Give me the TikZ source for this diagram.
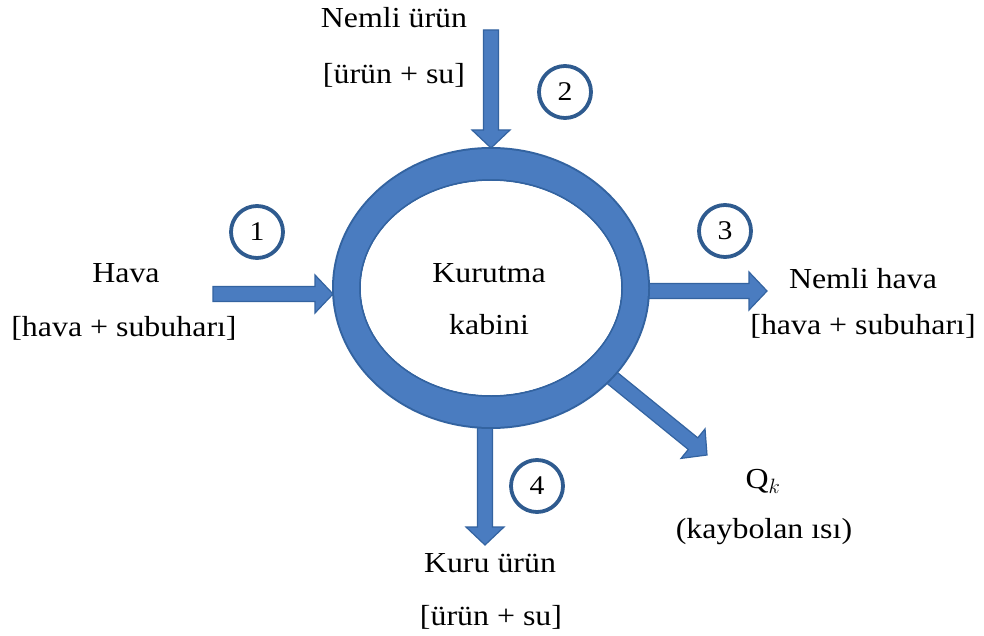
\documentclass[tikz,border=0pt]{standalone}
\usepackage{fontspec}
\setmainfont[FakeStretch=1.1]{Liberation Serif}
\usetikzlibrary{calc}
\definecolor{ringfill}{HTML}{4A7CC0}
\definecolor{ringedge}{HTML}{3363A0}
\definecolor{circedge}{HTML}{2F5B8F}
\tikzset{
 lbl/.style={anchor=base, inner sep=0pt, font=\fontsize{29}{34}\selectfont},
 num/.style={circle, draw=circedge, line width=3.8pt, fill=white, minimum size=52pt, inner sep=0pt, font=\fontsize{27}{30}\selectfont},
 blk/.style={fill=ringfill, draw=ringedge, line width=1.2pt, line join=miter},
}
\newcommand\blockarrow[2]{%
 \coordinate (h) at ($(#2)!18pt!(#1)$);
 \path[blk] ($(#1)!7.5pt!90:(#2)$) -- ($(h)!7.5pt!90:(#2)$) -- ($(h)!19pt!90:(#2)$) -- (#2)
   -- ($(h)!19pt!-90:(#2)$) -- ($(h)!7.5pt!-90:(#2)$) -- ($(#1)!7.5pt!-90:(#2)$) -- cycle;}
\begin{document}
\begin{tikzpicture}[x=1pt,y=-1pt]
\useasboundingbox (0,0) rectangle (984,636);
\fill[white] (0,0) rectangle (984,636);
% ring centre and arrow end points
\coordinate (cab) at (491,288);
\coordinate (a1s) at (213,294); \coordinate (a1e) at (333,294);
\coordinate (a2s) at (491,30);  \coordinate (a2e) at (491,148);
\coordinate (a3s) at (645,291); \coordinate (a3e) at (767,291);
\coordinate (a4s) at (485,425); \coordinate (a4e) at (485,545);
\coordinate (aqs) at (600,368); \coordinate (aqe) at (707,455);
% arrows
\blockarrow{a1s}{a1e}
\blockarrow{a2s}{a2e}
\blockarrow{a3s}{a3e}
\blockarrow{a4s}{a4e}
\blockarrow{aqs}{aqe}
% ring
\fill[ringedge, even odd rule] (cab) ellipse [x radius=159pt, y radius=141pt]
   (cab) ellipse [x radius=130pt, y radius=107pt];
\fill[ringfill, even odd rule] (cab) ellipse [x radius=157pt, y radius=139pt]
   (cab) ellipse [x radius=132pt, y radius=109pt];
\fill[white] (cab) ellipse [x radius=130pt, y radius=107pt];
% labels
\node[lbl] (kur) at (489,282) {Kurutma};
\node[lbl] (kab) at (489,334) {kabini};
\node[lbl] (nu1) at (394,28) {Nemli ürün};
\node[lbl] (nu2) at (394,84) {[ürün + su]};
\node[lbl] (hv1) at (126,282) {Hava};
\node[lbl] (hv2) at (124,336) {[hava + subuharı]};
\node[lbl] (nh1) at (863,288) {Nemli hava};
\node[lbl] (nh2) at (863,334) {[hava + subuharı]};
\node[lbl] (qk1) at (763,488) {Q$_k$};
\node[lbl] (qk2) at (764,538) {(kaybolan ısı)};
\node[lbl] (ku1) at (490,572) {Kuru ürün};
\node[lbl] (ku2) at (491,625) {[ürün + su]};
% numbers
\node[num] (n1) at (257,232) {1};
\node[num] (n2) at (565,92) {2};
\node[num] (n3) at (725,231) {3};
\node[num] (n4) at (537,486) {4};
\end{tikzpicture}
\end{document}
